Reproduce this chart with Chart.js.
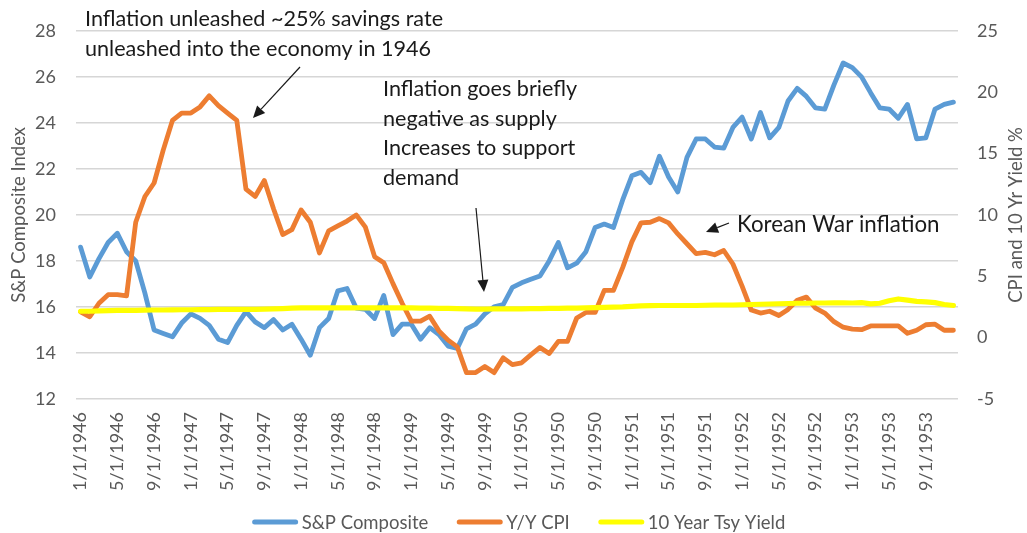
<!DOCTYPE html>
<html>
<head>
<meta charset="utf-8">
<script src="https://cdn.jsdelivr.net/npm/chart.js@4.4.1/dist/chart.umd.min.js"></script>
<style>
  html, body { margin: 0; padding: 0; background: #ffffff; }
  #wrap { width: 1027px; height: 533px; position: relative; }
  canvas { display: block; }
</style>
</head>
<body>
<div id="wrap"><canvas id="c" width="1027" height="533"></canvas></div>
<script>
// ---------- DATA ----------
const categories = [
  "1/1/1946","2/1/1946","3/1/1946","4/1/1946","5/1/1946","6/1/1946","7/1/1946","8/1/1946","9/1/1946","10/1/1946","11/1/1946","12/1/1946",
  "1/1/1947","2/1/1947","3/1/1947","4/1/1947","5/1/1947","6/1/1947","7/1/1947","8/1/1947","9/1/1947","10/1/1947","11/1/1947","12/1/1947",
  "1/1/1948","2/1/1948","3/1/1948","4/1/1948","5/1/1948","6/1/1948","7/1/1948","8/1/1948","9/1/1948","10/1/1948","11/1/1948","12/1/1948",
  "1/1/1949","2/1/1949","3/1/1949","4/1/1949","5/1/1949","6/1/1949","7/1/1949","8/1/1949","9/1/1949","10/1/1949","11/1/1949","12/1/1949",
  "1/1/1950","2/1/1950","3/1/1950","4/1/1950","5/1/1950","6/1/1950","7/1/1950","8/1/1950","9/1/1950","10/1/1950","11/1/1950","12/1/1950",
  "1/1/1951","2/1/1951","3/1/1951","4/1/1951","5/1/1951","6/1/1951","7/1/1951","8/1/1951","9/1/1951","10/1/1951","11/1/1951","12/1/1951",
  "1/1/1952","2/1/1952","3/1/1952","4/1/1952","5/1/1952","6/1/1952","7/1/1952","8/1/1952","9/1/1952","10/1/1952","11/1/1952","12/1/1952",
  "1/1/1953","2/1/1953","3/1/1953","4/1/1953","5/1/1953","6/1/1953","7/1/1953","8/1/1953","9/1/1953","10/1/1953","11/1/1953","12/1/1953"
];

const spComposite = [
  18.6, 17.3, 18.1, 18.8, 19.2, 18.4, 18.0, 16.6, 15.0, 14.85, 14.7, 15.3,
  15.7, 15.5, 15.2, 14.6, 14.45, 15.2, 15.8, 15.35, 15.1, 15.45, 15.0, 15.25,
  14.6, 13.9, 15.1, 15.5, 16.7, 16.8, 15.95, 15.9, 15.5, 16.5, 14.8, 15.25,
  15.25, 14.6, 15.1, 14.8, 14.3, 14.2, 15.05, 15.25, 15.7, 16.0, 16.1, 16.85,
  17.05, 17.2, 17.35, 18.0, 18.8, 17.7, 17.9, 18.4, 19.45, 19.6, 19.45, 20.65,
  21.7, 21.85, 21.4, 22.55, 21.65, 21.0, 22.5, 23.3, 23.3, 22.95, 22.9, 23.8,
  24.25, 23.3, 24.45, 23.35, 23.8, 24.95, 25.5, 25.15, 24.65, 24.6, 25.65, 26.6,
  26.4, 26.0, 25.3, 24.65, 24.6, 24.2, 24.8, 23.3, 23.35, 24.6, 24.8, 24.9
];

const yyCPI = [
  2.1, 1.7, 2.8, 3.5, 3.5, 3.4, 9.4, 11.5, 12.6, 15.3, 17.7, 18.3,
  18.3, 18.8, 19.7, 18.9, 18.3, 17.7, 12.1, 11.5, 12.8, 10.5, 8.4, 8.8,
  10.4, 9.4, 6.9, 8.7, 9.1, 9.5, 10.0, 9.0, 6.6, 6.1, 4.4, 2.8,
  1.35, 1.35, 1.75, 0.55, -0.2, -0.75, -2.85, -2.85, -2.35, -2.85, -1.65, -2.2,
  -2.05, -1.4, -0.8, -1.3, -0.3, -0.3, 1.6, 2.05, 2.05, 3.85, 3.85, 5.7,
  7.8, 9.35, 9.4, 9.7, 9.35, 8.45, 7.65, 6.85, 6.95, 6.75, 7.1, 6.0,
  4.2, 2.25, 2.0, 2.15, 1.8, 2.3, 3.05, 3.3, 2.4, 2.0, 1.3, 0.85,
  0.7, 0.65, 0.95, 0.95, 0.95, 0.95, 0.35, 0.6, 1.05, 1.1, 0.6, 0.6
];

const tsyYield10 = [
  2.15, 2.15, 2.18, 2.2, 2.22, 2.22, 2.22, 2.24, 2.25, 2.25, 2.26, 2.27,
  2.27, 2.28, 2.28, 2.3, 2.3, 2.3, 2.3, 2.3, 2.32, 2.35, 2.37, 2.4,
  2.42, 2.42, 2.43, 2.43, 2.42, 2.42, 2.42, 2.43, 2.43, 2.43, 2.43, 2.42,
  2.42, 2.41, 2.4, 2.39, 2.38, 2.37, 2.35, 2.33, 2.33, 2.34, 2.34, 2.34,
  2.35, 2.36, 2.37, 2.38, 2.39, 2.4, 2.41, 2.43, 2.45, 2.46, 2.48, 2.5,
  2.55, 2.58, 2.6, 2.62, 2.62, 2.62, 2.62, 2.62, 2.64, 2.66, 2.66, 2.66,
  2.68, 2.7, 2.72, 2.74, 2.76, 2.78, 2.8, 2.8, 2.82, 2.82, 2.83, 2.83,
  2.82, 2.85, 2.75, 2.8, 3.0, 3.15, 3.05, 2.95, 2.92, 2.85, 2.7, 2.62
];

const seriesLabels = ["S&P Composite", "Y/Y CPI", "10 Year Tsy Yield"];
const leftAxisTicks = [12, 14, 16, 18, 20, 22, 24, 26, 28];
const rightAxisTicks = [-5, 0, 5, 10, 15, 20, 25];
const xTickEvery = 4;

const leftTitle = "S&P Composite Index";
const rightTitle = "CPI and 10 Yr Yield %";
const notes = [
  { lines: ["Inflation unleashed ~25% savings rate", "unleashed into the economy in 1946"] },
  { lines: ["Inflation goes briefly", "negative as supply", "Increases to support", "demand"] },
  { lines: ["Korean War inflation"] }
];

// ---------- STYLE ----------
const FONT = "Lato, 'Open Sans', sans-serif";
const AXIS_COLOR = "#595959";
const GRID_COLOR = "#d6d6d6";
const colors = ["#5b9bd5", "#ed7d31", "#ffff00"];

const decor = {
  id: 'decor',
  beforeDraw(chart) {
    const ctx = chart.ctx;
    ctx.save();
    ctx.fillStyle = '#ffffff';
    ctx.fillRect(0, 0, chart.width, chart.height);
    ctx.restore();
  },
  afterDraw(chart) {
    const ctx = chart.ctx;
    const area = chart.chartArea;
    const midY = (area.top + area.bottom) / 2;
    ctx.save();
    // axis titles
    ctx.fillStyle = AXIS_COLOR;
    ctx.font = "18.5px " + FONT;
    ctx.textAlign = 'center';
    ctx.textBaseline = 'middle';
    ctx.save();
    ctx.translate(19, midY);
    ctx.rotate(-Math.PI / 2);
    ctx.fillText(leftTitle, 0, 0);
    ctx.restore();
    ctx.save();
    ctx.translate(1016, midY);
    ctx.rotate(-Math.PI / 2);
    ctx.fillText(rightTitle, 0, 0);
    ctx.restore();

    // annotations
    ctx.fillStyle = '#1a1a1a';
    ctx.textAlign = 'left';
    ctx.textBaseline = 'alphabetic';
    const place = [
      { x: 85, y: 26, lh: 29.5, size: 21.6 },
      { x: 383, y: 96, lh: 29.5, size: 21.6 },
      { x: 737, y: 232, lh: 29.5, size: 22.3 }
    ];
    notes.forEach((n, k) => {
      ctx.font = place[k].size + "px " + FONT;
      n.lines.forEach((t, j) => ctx.fillText(t, place[k].x, place[k].y + j * place[k].lh));
    });

    // arrows
    function arrow(x1, y1, x2, y2) {
      const ang = Math.atan2(y2 - y1, x2 - x1);
      const L = 12, W = 5.5;
      const bx = x2 - L * Math.cos(ang), by = y2 - L * Math.sin(ang);
      ctx.strokeStyle = '#1a1a1a';
      ctx.lineWidth = 1.2;
      ctx.beginPath();
      ctx.moveTo(x1, y1);
      ctx.lineTo(bx, by);
      ctx.stroke();
      ctx.fillStyle = '#1a1a1a';
      ctx.beginPath();
      ctx.moveTo(x2, y2);
      ctx.lineTo(bx + W * Math.sin(ang), by - W * Math.cos(ang));
      ctx.lineTo(bx - W * Math.sin(ang), by + W * Math.cos(ang));
      ctx.closePath();
      ctx.fill();
    }
    arrow(300, 67, 253, 118);
    arrow(476, 208, 484, 292);
    arrow(729, 223, 706, 232);

    // legend
    ctx.font = "18.5px " + FONT;
    ctx.textBaseline = 'middle';
    const lineLen = 45, gap = 4, itemGap = 29;
    const ds = chart.data.datasets;
    const widths = ds.map(d => lineLen + gap + ctx.measureText(d.label).width);
    const total = widths.reduce((a, b) => a + b, 0) + itemGap * (ds.length - 1);
    let x = 519 - total / 2;
    const ly = 522;
    ds.forEach((d, k) => {
      ctx.strokeStyle = d.borderColor;
      ctx.lineWidth = 5;
      ctx.lineCap = 'round';
      ctx.beginPath();
      ctx.moveTo(x + 2, ly);
      ctx.lineTo(x + lineLen - 2, ly);
      ctx.stroke();
      ctx.fillStyle = AXIS_COLOR;
      ctx.fillText(d.label, x + lineLen + gap, ly + 1);
      x += widths[k] + itemGap;
    });
    ctx.restore();
  }
};

const lineStyle = { pointRadius: 0, pointHoverRadius: 0, tension: 0, fill: false,
  borderJoinStyle: 'round', borderCapStyle: 'round' };

new Chart(document.getElementById('c'), {
  type: 'line',
  data: {
    labels: categories,
    datasets: [
      Object.assign({ label: seriesLabels[0], data: spComposite, borderColor: colors[0], backgroundColor: colors[0], borderWidth: 4.8, yAxisID: 'yL', order: 2 }, lineStyle),
      Object.assign({ label: seriesLabels[1], data: yyCPI, borderColor: colors[1], backgroundColor: colors[1], borderWidth: 4.8, yAxisID: 'yR', order: 1 }, lineStyle),
      Object.assign({ label: seriesLabels[2], data: tsyYield10, borderColor: colors[2], backgroundColor: colors[2], borderWidth: 5.2, yAxisID: 'yR', order: 0 }, lineStyle)
    ]
  },
  options: {
    responsive: false,
    animation: false,
    layout: { padding: { top: 18, left: 0, right: 0, bottom: 0 } },
    plugins: { legend: { display: false }, tooltip: { enabled: false } },
    scales: {
      x: {
        type: 'category',
        offset: true,
        grid: { display: false, drawTicks: false },
        border: { display: false },
        ticks: {
          autoSkip: false, minRotation: 90, maxRotation: 90, padding: 13,
          color: AXIS_COLOR, font: { family: FONT, size: 18 },
          callback: function (v, i) { return i % xTickEvery === 0 ? this.getLabelForValue(v) : null; }
        },
        afterFit: s => { s.height = 134; }
      },
      yL: {
        position: 'left',
        min: leftAxisTicks[0], max: leftAxisTicks[leftAxisTicks.length - 1],
        grid: { color: GRID_COLOR, lineWidth: 1.6, drawTicks: false },
        border: { display: false },
        ticks: { stepSize: leftAxisTicks[1] - leftAxisTicks[0], padding: 20, color: AXIS_COLOR, font: { family: FONT, size: 18 } },
        afterFit: s => { s.width = 76; }
      },
      yR: {
        position: 'right',
        min: rightAxisTicks[0], max: rightAxisTicks[rightAxisTicks.length - 1],
        grid: { display: false, drawTicks: false },
        border: { display: false },
        ticks: { stepSize: rightAxisTicks[1] - rightAxisTicks[0], padding: 19, color: AXIS_COLOR, font: { family: FONT, size: 18 } },
        afterFit: s => { s.width = 69; }
      }
    }
  },
  plugins: [decor]
});
</script>
</body>
</html>
